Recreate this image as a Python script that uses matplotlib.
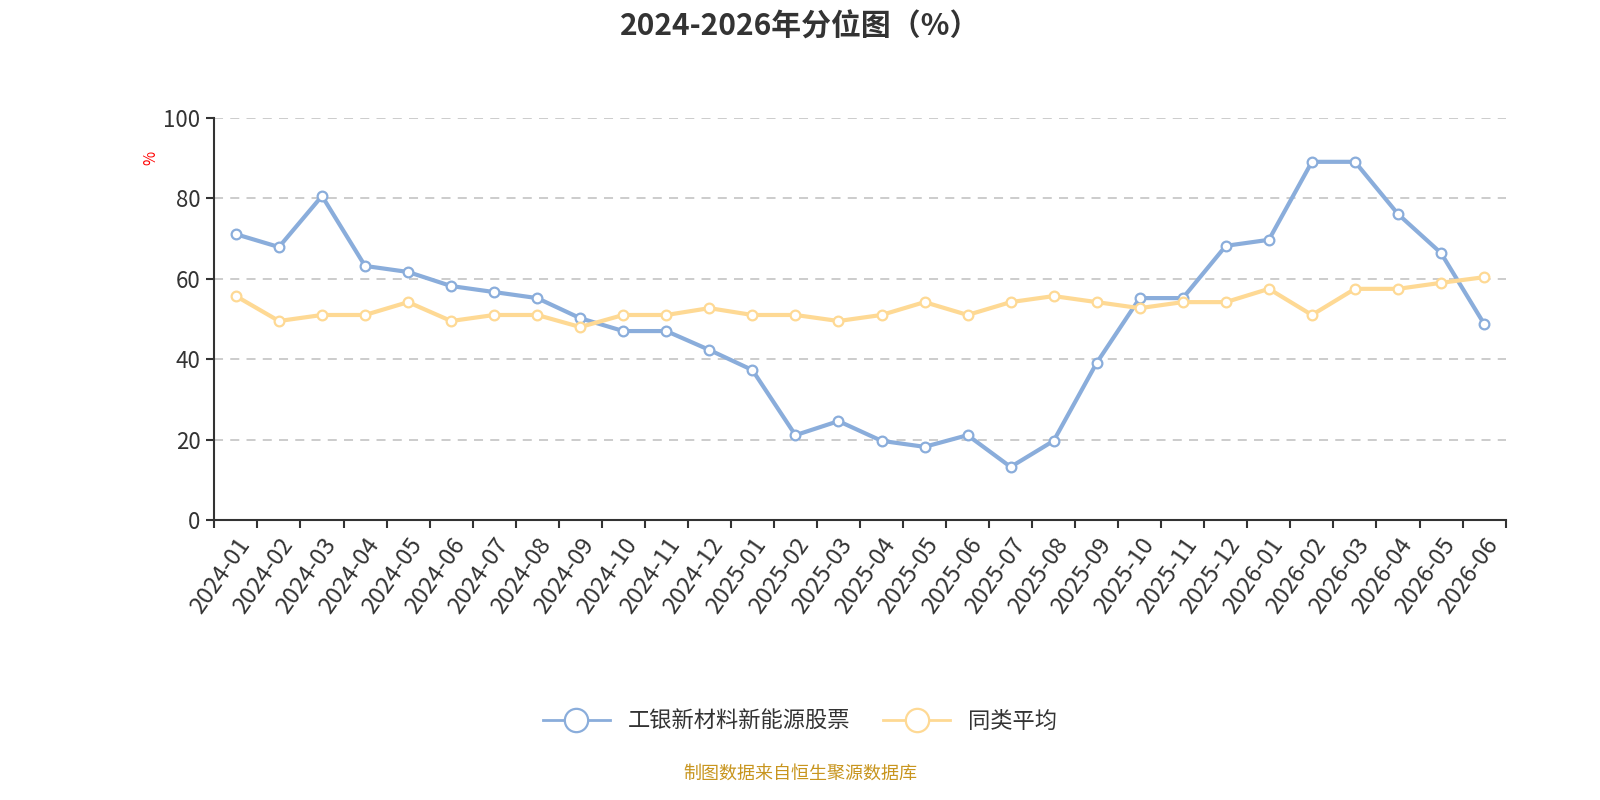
import numpy as np
import matplotlib
matplotlib.use('Agg')
import matplotlib.pyplot as plt

plt.rcParams['font.family'] = ['Noto Sans CJK SC', 'DejaVu Sans']

# month labels, 2024-01 .. 2026-06
months = ['2024-01', '2024-02', '2024-03', '2024-04', '2024-05', '2024-06',
          '2024-07', '2024-08', '2024-09', '2024-10', '2024-11', '2024-12',
          '2025-01', '2025-02', '2025-03', '2025-04', '2025-05', '2025-06',
          '2025-07', '2025-08', '2025-09', '2025-10', '2025-11', '2025-12',
          '2026-01', '2026-02', '2026-03', '2026-04', '2026-05', '2026-06']

fund_pct = [71.1, 67.9, 80.6, 63.2, 61.7, 58.2, 56.7, 55.2, 50.2, 47.0,
            47.0, 42.3, 37.3, 21.1, 24.6, 19.7, 18.2, 21.1, 13.2, 19.7,
            39.1, 55.2, 55.2, 68.2, 69.7, 89.1, 89.1, 76.1, 66.4, 48.8]

peer_avg = [55.7, 49.5, 51.0, 51.0, 54.2, 49.5, 51.0, 51.0, 48.0, 51.0,
            51.0, 52.7, 51.0, 51.0, 49.5, 51.0, 54.2, 51.0, 54.2, 55.7,
            54.2, 52.7, 54.2, 54.2, 57.5, 51.0, 57.5, 57.5, 59.0, 60.4]

series_names = ['工银新材料新能源股票', '同类平均']
BLUE = '#8aaddb'
YELLOW = '#fed994'
AXIS = '#333333'

fig = plt.figure(figsize=(16, 8), dpi=100)
ax = fig.add_axes([0.134, 0.35, 0.807, 0.5025])

x = np.arange(len(months))
ax.plot(x, fund_pct, color=BLUE, lw=3, marker='o', ms=7, mfc='white',
        mec=BLUE, mew=1.6, label=series_names[0], zorder=3)
ax.plot(x, peer_avg, color=YELLOW, lw=3, marker='o', ms=7, mfc='white',
        mec=YELLOW, mew=1.6, label=series_names[1], zorder=3)

ax.set_xlim(-0.5, len(months) - 0.5)
ax.set_ylim(0, 100)
ax.set_yticks(range(0, 101, 20))
ax.yaxis.grid(True, ls=(0, (5, 4)), color='#c8c8c8', lw=1.3)
ax.set_axisbelow(True)

for s in ['top', 'right']:
    ax.spines[s].set_visible(False)
for s in ['left', 'bottom']:
    ax.spines[s].set_color(AXIS)
    ax.spines[s].set_linewidth(1.5)

# ticks on category boundaries, labels on category centres
ax.set_xticks(np.arange(-0.5, len(months), 1.0))
ax.set_xticklabels([])
ax.set_xticks(x, minor=True)
ax.set_xticklabels(months, minor=True, rotation=55, ha='right', va='top',
                   rotation_mode='anchor', fontsize=17, color='#333333')
ax.tick_params(axis='x', which='major', length=6, width=1.5, color=AXIS)
ax.tick_params(axis='x', which='minor', length=0, pad=10)
ax.tick_params(axis='y', length=6, width=1.5, color=AXIS, labelsize=16,
               labelcolor='#333333', pad=4)

ax.text(-0.049, 0.9, '%', transform=ax.transAxes, color='red', fontsize=11,
        rotation=90, ha='center', va='center')

fig.suptitle('2024-2026年分位图（%）', fontsize=21.5, fontweight='bold',
             color='#333333', y=0.985)

leg = fig.legend(loc='center', bbox_to_anchor=(0.5, 0.098), ncol=2, frameon=False,
                 fontsize=16, markerscale=2.4, handlelength=3, columnspacing=1.5,
                 labelcolor='#333333')
for ln in leg.get_lines():
    ln.set_linewidth(2)

fig.text(0.5, 0.033, '制图数据来自恒生聚源数据库', ha='center', va='center',
         fontsize=13, color='#c8951e')

fig.savefig('out.png', dpi=100)
